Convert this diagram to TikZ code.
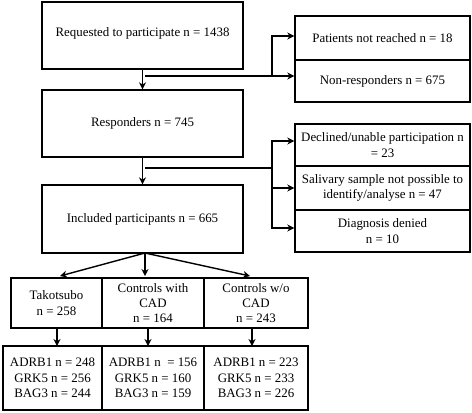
\documentclass[tikz,border=0pt]{standalone}
\usepackage{fontspec}
\setmainfont{Liberation Serif}
\usetikzlibrary{arrows.meta}
\begin{document}
\begin{tikzpicture}[x=1pt,y=-1pt,
  box/.style={draw,line width=1.4pt,rectangle,inner sep=1pt,align=center,
    font=\fontsize{12.9}{15.3}\selectfont},
  arr/.style={line width=1.4pt,-{Stealth[length=7pt,width=7pt]}},
  ln/.style={line width=1.4pt}]
\useasboundingbox (0,0) rectangle (472,413);
% main column
\node[box,minimum width=201pt,minimum height=67pt] (req) at (142.5,35.5) {\raisebox{7pt}{Requested to participate n = 1438}};
\node[box,minimum width=201pt,minimum height=67pt] (resp) at (142.5,123.5) {Responders n = 745};
\node[box,minimum width=201pt,minimum height=68pt] (incl) at (142.5,219) {Included participants n = 665};
% right column 1
\node[box,minimum width=175pt,minimum height=44pt] (pnr) at (382.5,38) {Patients not reached n = 18};
\node[box,minimum width=175pt,minimum height=42pt] (nonr) at (382.5,81) {Non-responders n = 675};
% right column 2
\node[box,minimum width=175pt,minimum height=42pt] (decl) at (382.5,145) {Declined/unable participation n\\= 23};
\node[box,minimum width=175pt,minimum height=44pt] (sal) at (382.5,188) {Salivary sample not possible to\\identify/analyse n = 47};
\node[box,minimum width=175pt,minimum height=42pt] (diag) at (382.5,231) {Diagnosis denied\\n = 10};
% groups
\node[box,minimum width=91pt,minimum height=50pt] (tako) at (56.5,303) {Takotsubo\\n = 258};
\node[box,minimum width=102pt,minimum height=50pt] (cwc) at (153,303) {Controls with\\CAD\\n = 164};
\node[box,minimum width=104pt,minimum height=50pt] (cwo) at (256,303) {Controls w/o\\CAD\\n = 243};
% results
\node[box,minimum width=99pt,minimum height=64pt] (r1) at (52.5,378) {ADRB1 n = 248\\GRK5 n = 256\\BAG3 n = 244};
\node[box,minimum width=102pt,minimum height=64pt] (r2) at (153,378) {ADRB1 n \ = 156\\GRK5 n = 160\\BAG3 n = 159};
\node[box,minimum width=104pt,minimum height=64pt] (r3) at (256,378) {ADRB1 n = 223\\GRK5 n = 233\\BAG3 n = 226};
% connectors top
\draw[arr] (req.south) -- (resp.north);
\coordinate (b1) at (145,76);
\coordinate (j1) at (272,76);
\draw[ln] (b1) -- (j1);
\draw[arr] (j1) |- ([yshift=2pt]pnr.west);
\draw[arr] (j1) -- (j1 -| nonr.west);
% connectors middle
\draw[arr] (resp.south) -- (incl.north);
\coordinate (b2) at (145,168);
\coordinate (j2) at (272,168);
\draw[ln] (b2) -- (j2);
\draw[arr] (j2) |- ([yshift=4pt]decl.west);
\draw[arr] (j2) |- (sal.west);
\draw[arr] (j2) |- ([yshift=3pt]diag.west);
% split
\coordinate (sp) at (145,253);
\draw[arr] (sp) -- (60,276);
\draw[arr] (sp) -- (145,276);
\draw[arr] (sp) -- (250,276);
% down to results
\draw[arr] (57,328) -- (57,346);
\draw[arr] (148,328) -- (148,346);
\draw[arr] (252,328) -- (252,346);
\end{tikzpicture}
\end{document}
